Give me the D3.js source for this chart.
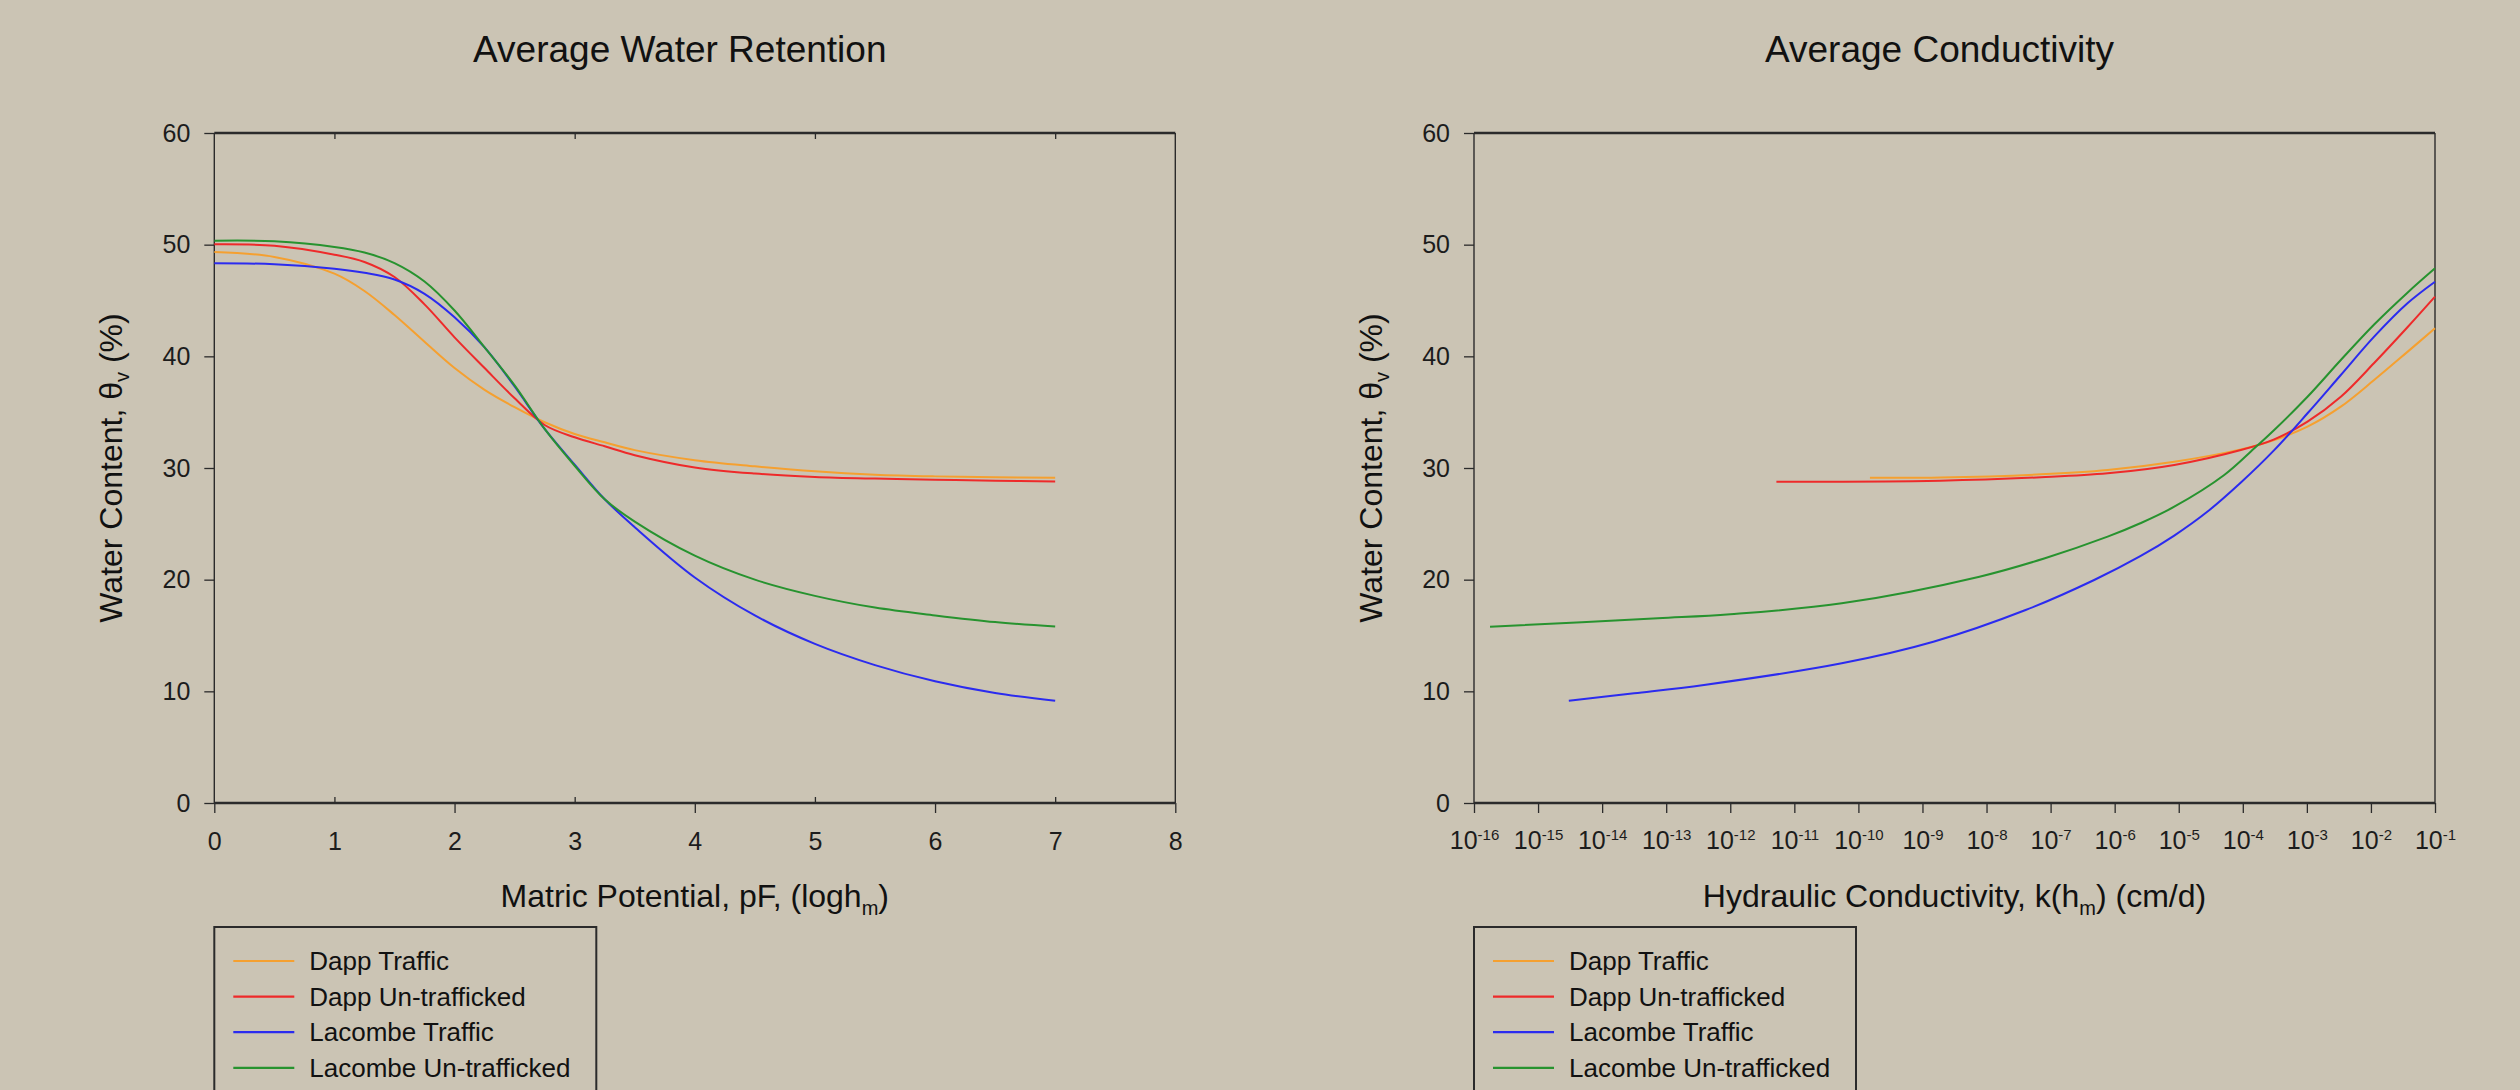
<!DOCTYPE html>
<html>
<head>
<meta charset="utf-8">
<script src="https://cdn.jsdelivr.net/npm/d3@7"></script>
<style>
  body { margin: 0; background: #cbc4b4; }
  svg { display: block; font-family: "Liberation Sans", Arial, sans-serif; }
  .frame { stroke: #2b2b2b; }
  .tick line { stroke: #2b2b2b; stroke-width: 1.3; }
  .tick text { fill: #1c1c1c; font-size: 25px; font-family: "Liberation Sans", Arial, sans-serif; }
  .curve { fill: none; stroke-width: 2; }
</style>
</head>
<body>
<div id="chart"></div>
<script>
// Series names (legend order)
const seriesNames = ['Dapp Traffic', 'Dapp Un-trafficked', 'Lacombe Traffic', 'Lacombe Un-trafficked'];

// Water retention: matric potential (pF) vs water content (%)
const pF = [0, 0.5, 1, 1.25, 1.5, 1.75, 2, 2.25, 2.5, 2.75, 3, 3.25, 3.5, 4, 4.5, 5, 5.5, 6, 6.5, 7];
const retDappTraffic = [49.34, 48.9, 47.4, 45.85, 43.7, 41.3, 38.95, 37.0, 35.45, 34.1, 33.05, 32.3, 31.6, 30.7, 30.15, 29.7, 29.4, 29.25, 29.17, 29.13];
const retDappUntrafficked = [50.03, 49.9, 49.1, 48.45, 47.1, 44.65, 41.7, 38.95, 36.25, 33.85, 32.75, 31.95, 31.15, 30.05, 29.5, 29.2, 29.05, 28.95, 28.85, 28.8];
const retLacombeTraffic = [48.33, 48.25, 47.85, 47.48, 46.88, 45.6, 43.5, 40.8, 37.3, 33.5, 30.3, 27.2, 24.7, 20.2, 16.8, 14.25, 12.35, 10.9, 9.85, 9.16];
const retLacombeUntrafficked = [50.35, 50.3, 49.8, 49.3, 48.35, 46.7, 44.1, 40.8, 37.4, 33.5, 30.2, 27.2, 25.2, 22.15, 20.0, 18.55, 17.5, 16.8, 16.2, 15.8];

// Conductivity: log10 k(hm) (cm/d) vs water content (%)
const kDappTraffic = [-9.82, -8.72, -7.15, -6.11, -5.07, -4.03, -3.51, -2.99, -2.47, -1.95, -1.43, -1.0];
const condDappTraffic = [29.13, 29.15, 29.43, 29.82, 30.56, 31.67, 32.5, 33.7, 35.49, 37.88, 40.4, 42.51];
const kDappUntrafficked = [-11.28, -8.72, -7.15, -6.11, -5.07, -4.03, -3.51, -2.99, -2.47, -1.95, -1.43, -1.0];
const condDappUntrafficked = [28.77, 28.86, 29.17, 29.52, 30.27, 31.61, 32.57, 34.15, 36.38, 39.4, 42.6, 45.34];
const kLacombeTraffic = [-14.52, -13.5, -12.41, -10.26, -8.83, -7.39, -6.32, -5.6, -5.07, -4.55, -4.03, -3.51, -2.99, -2.47, -1.95, -1.43, -1.0];
const condLacombeTraffic = [9.16, 9.82, 10.57, 12.51, 14.44, 17.28, 19.97, 22.1, 23.95, 26.1, 28.7, 31.6, 34.9, 38.33, 41.76, 44.75, 46.68];
const kLacombeUntrafficked = [-15.75, -13.13, -12.0, -10.26, -8.11, -7.1, -6.11, -5.6, -5.07, -4.29, -3.82, -3.51, -2.99, -2.47, -1.95, -1.43, -1.0];
const condLacombeUntrafficked = [15.79, 16.54, 16.9, 17.88, 20.27, 21.9, 23.85, 25.05, 26.53, 29.37, 31.76, 33.4, 36.38, 39.67, 42.85, 45.7, 47.88];

// Axis ticks
const yTicks = [0, 10, 20, 30, 40, 50, 60];
const pFTicks = [0, 1, 2, 3, 4, 5, 6, 7, 8];
const kExponents = d3.range(-16, 0);

const colors = ['#f5a030', '#ee2a2a', '#2b2bef', '#27932f'];

const svg = d3.select('#chart').append('svg')
  .attr('width', 2520)
  .attr('height', 1090);

const plotTop = 133, plotBottom = 803, plotWidth = 961;

function drawPanel(cfg) {
  const g = svg.append('g').attr('transform', `translate(${cfg.left},0)`);
  const x = cfg.xScale.range([0, plotWidth]);
  const y = d3.scaleLinear().domain([0, 60]).range([plotBottom, plotTop]);

  // Title
  g.append('text')
    .attr('x', plotWidth / 2 - 15)
    .attr('y', 62)
    .attr('text-anchor', 'middle')
    .attr('font-size', 37)
    .attr('fill', '#111')
    .text(cfg.title);

  // Y axis
  const yAxisG = g.append('g').call(d3.axisLeft(y).tickValues(yTicks).tickSize(10).tickPadding(14));
  yAxisG.select('.domain').remove();

  // X axis
  const xAxisG = g.append('g')
    .attr('transform', `translate(0,${plotBottom})`)
    .call(cfg.xAxis(x));
  xAxisG.select('.domain').remove();
  if (cfg.afterAxis) cfg.afterAxis(g, x, xAxisG);

  // Frame: thick top and bottom, thin sides
  g.append('line').attr('class', 'frame').attr('x1', 0).attr('x2', plotWidth)
    .attr('y1', plotTop).attr('y2', plotTop).attr('stroke-width', 2.4);
  g.append('line').attr('class', 'frame').attr('x1', 0).attr('x2', plotWidth)
    .attr('y1', plotBottom).attr('y2', plotBottom).attr('stroke-width', 2.4);
  g.append('line').attr('class', 'frame').attr('x1', 0).attr('x2', 0)
    .attr('y1', plotTop).attr('y2', plotBottom).attr('stroke-width', 1.4);
  g.append('line').attr('class', 'frame').attr('x1', plotWidth).attr('x2', plotWidth)
    .attr('y1', plotTop).attr('y2', plotBottom).attr('stroke-width', 1.4);

  // Curves
  const line = d3.line()
    .x(d => x(d.x))
    .y(d => y(d.y))
    .curve(d3.curveCatmullRom.alpha(0.5));

  g.selectAll('.curve')
    .data(cfg.series)
    .join('path')
    .attr('class', 'curve')
    .attr('stroke', (d, i) => colors[i])
    .attr('d', d => line(d.values));

  // Y title
  const yt = g.append('text')
    .attr('transform', `translate(-92,${(plotTop + plotBottom) / 2}) rotate(-90)`)
    .attr('text-anchor', 'middle')
    .attr('font-size', 32)
    .attr('fill', '#111');
  yt.append('tspan').text('Water Content, \u03b8');
  yt.append('tspan').attr('font-size', 20).attr('dy', 7).text('v');
  yt.append('tspan').attr('dy', -7).text(' (%)');

  // X title
  const xt = g.append('text')
    .attr('x', plotWidth / 2)
    .attr('y', 907)
    .attr('text-anchor', 'middle')
    .attr('font-size', 32)
    .attr('fill', '#111');
  xt.append('tspan').text(cfg.xTitle[0]);
  xt.append('tspan').attr('font-size', 20).attr('dy', 8).text('m');
  xt.append('tspan').attr('dy', -8).text(cfg.xTitle[1]);

  // Legend
  const legend = g.append('g').attr('transform', 'translate(0,927)');
  legend.append('rect')
    .attr('width', 382)
    .attr('height', 220)
    .attr('fill', 'none')
    .attr('stroke', '#2b2b2b')
    .attr('stroke-width', 2);
  const items = legend.selectAll('.item')
    .data(seriesNames)
    .join('g')
    .attr('class', 'item')
    .attr('transform', (d, i) => `translate(0,${34 + i * 35.6})`);
  items.append('line')
    .attr('x1', 19).attr('x2', 80)
    .attr('stroke', (d, i) => colors[i])
    .attr('stroke-width', 2.2);
  items.append('text')
    .attr('x', 95)
    .attr('y', 9)
    .attr('font-size', 26)
    .attr('fill', '#111')
    .text(d => d);
}

// Left panel: water retention
const retValues = [retDappTraffic, retDappUntrafficked, retLacombeTraffic, retLacombeUntrafficked];
drawPanel({
  left: 214.3,
  title: 'Average Water Retention',
  xTitle: ['Matric Potential, pF, (logh', ')'],
  xScale: d3.scaleLinear().domain([0, 8]),
  xAxis: x => d3.axisBottom(x).tickValues(pFTicks).tickSize(10).tickPadding(19).tickSizeOuter(0),
  afterAxis: (g, x, xAxisG) => {
    // odd ticks point inward, even ticks outward
    xAxisG.selectAll('.tick line').attr('y2', d => d % 2 ? -6 : 10);
    g.append('g')
      .attr('transform', `translate(0,${plotTop})`)
      .call(d3.axisTop(x).tickValues([1, 3, 5, 7]).tickSize(-6).tickFormat(''))
      .select('.domain').remove();
  },
  series: retValues.map(vals => ({ values: pF.map((p, i) => ({ x: p, y: vals[i] })) }))
});

// Right panel: conductivity
const condK = [kDappTraffic, kDappUntrafficked, kLacombeTraffic, kLacombeUntrafficked];
const condValues = [condDappTraffic, condDappUntrafficked, condLacombeTraffic, condLacombeUntrafficked];
drawPanel({
  left: 1474,
  title: 'Average Conductivity',
  xTitle: ['Hydraulic Conductivity, k(h', ') (cm/d)'],
  xScale: d3.scaleLog().domain([1e-16, 1e-1]),
  xAxis: x => d3.axisBottom(x)
    .tickValues(kExponents.map(e => Math.pow(10, e)))
    .tickSize(10).tickPadding(18).tickSizeOuter(0),
  afterAxis: (g, x, xAxisG) => {
    xAxisG.selectAll('.tick text').each(function (d) {
      const t = d3.select(this).text('');
      t.append('tspan').text('10');
      t.append('tspan').attr('font-size', 15).attr('dy', -9)
        .text(Math.round(Math.log10(d)));
    });
  },
  series: condK.map((ks, s) => ({ values: ks.map((k, i) => ({ x: Math.pow(10, k), y: condValues[s][i] })) }))
});
</script>
</body>
</html>
